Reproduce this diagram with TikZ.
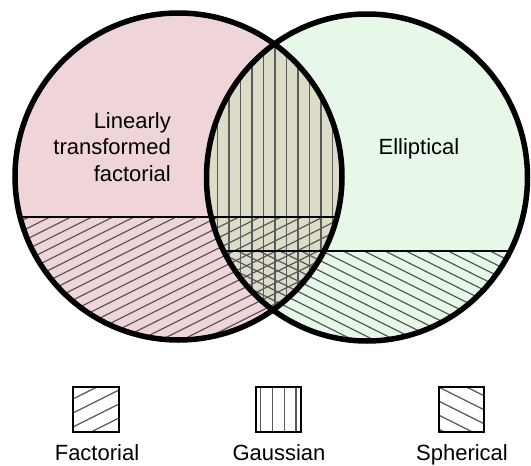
\documentclass[tikz,border=0pt]{standalone}
\usepackage{fontspec}
\setmainfont{Liberation Sans}
\definecolor{lpink}{RGB}{240,213,216}
\definecolor{lgreen}{RGB}{232,248,232}
\definecolor{lolive}{RGB}{220,220,201}
\definecolor{hatchc}{RGB}{90,90,90}
\begin{document}
\begin{tikzpicture}[x=1pt,y=-1pt,
  hatch/.style={draw=hatchc, line width=1.2pt},
  rim/.style={draw=black, line width=5.5pt},
  divider/.style={draw=black, line width=2.5pt},
  legbox/.style={draw=black, line width=2pt},
  lbl/.style={font=\fontsize{22pt}{26pt}\selectfont, inner sep=0pt}]
\useasboundingbox (0,0) rectangle (531,466);
% fills
\fill[lpink] (178.5,176.5) circle[radius=163.5pt];
\fill[lgreen] (367,177.5) ellipse[x radius=160.5pt, y radius=163.5pt];
% intersection: fill + Gaussian hatch
\begin{scope}
  \clip (178.5,176.5) circle[radius=163.5pt];
  \clip (367,177.5) ellipse[x radius=160.5pt, y radius=163.5pt];
  \fill[lolive] (0,0) rectangle (531,360);
  \foreach \k in {-6,...,6} \draw[hatch] ({275+11.5*\k},0) -- ({275+11.5*\k},360);
\end{scope}
% Factorial hatch (left circle, lower part)
\begin{scope}
  \clip (178.5,176.5) circle[radius=163.5pt];
  \clip (0,217) rectangle (531,360);
  \foreach \c in {0,...,34} \draw[hatch] (0,{200+10.5*\c}) -- (400,{10.5*\c});
\end{scope}
% Spherical hatch (right circle, lower part)
\begin{scope}
  \clip (367,177.5) ellipse[x radius=160.5pt, y radius=163.5pt];
  \clip (0,251) rectangle (531,360);
  \foreach \c in {0,...,28} \draw[hatch] (150,{60+10.5*\c}) -- (550,{260+10.5*\c});
\end{scope}
% dividers
\begin{scope}
  \clip (178.5,176.5) circle[radius=163.5pt];
  \draw[divider] (0,217) -- (531,217);
\end{scope}
\begin{scope}
  \clip (367,177.5) ellipse[x radius=160.5pt, y radius=163.5pt];
  \draw[divider] (0,251) -- (531,251);
\end{scope}
% rims
\draw[rim] (178.5,176.5) circle[radius=163.5pt];
\draw[rim] (367,177.5) ellipse[x radius=160.5pt, y radius=163.5pt];
% labels
\node[lbl, anchor=base east] (lin1) at (171,128) {Linearly};
\node[lbl, anchor=base east] (lin2) at (171,154.5) {transformed};
\node[lbl, anchor=base east] (lin3) at (171,181) {factorial};
\node[lbl, anchor=base] (ell) at (419,154.5) {Elliptical};
% legend: Factorial
\begin{scope}
  \clip (73,387) rectangle (119,432);
  \foreach \c in {0,...,6} \draw[hatch] (73,{385+14*\c}) -- (133,{355+14*\c});
\end{scope}
\draw[legbox] (73,387) rectangle (119,432);
% legend: Gaussian
\foreach \x in {260.7,272.5,284.3,296} \draw[hatch] (\x,387) -- (\x,432);
\draw[legbox] (256,387) rectangle (301,432);
% legend: Spherical
\begin{scope}
  \clip (438.5,387) rectangle (483.5,432);
  \foreach \c in {0,...,6} \draw[hatch] (438.5,{345+14*\c}) -- (498.5,{375+14*\c});
\end{scope}
\draw[legbox] (438.5,387) rectangle (483.5,432);
\node[lbl, anchor=base] (lf) at (97,460.5) {Factorial};
\node[lbl, anchor=base] (lg) at (279,460.5) {Gaussian};
\node[lbl, anchor=base] (ls) at (462,460.5) {Spherical};
\end{tikzpicture}
\end{document}
